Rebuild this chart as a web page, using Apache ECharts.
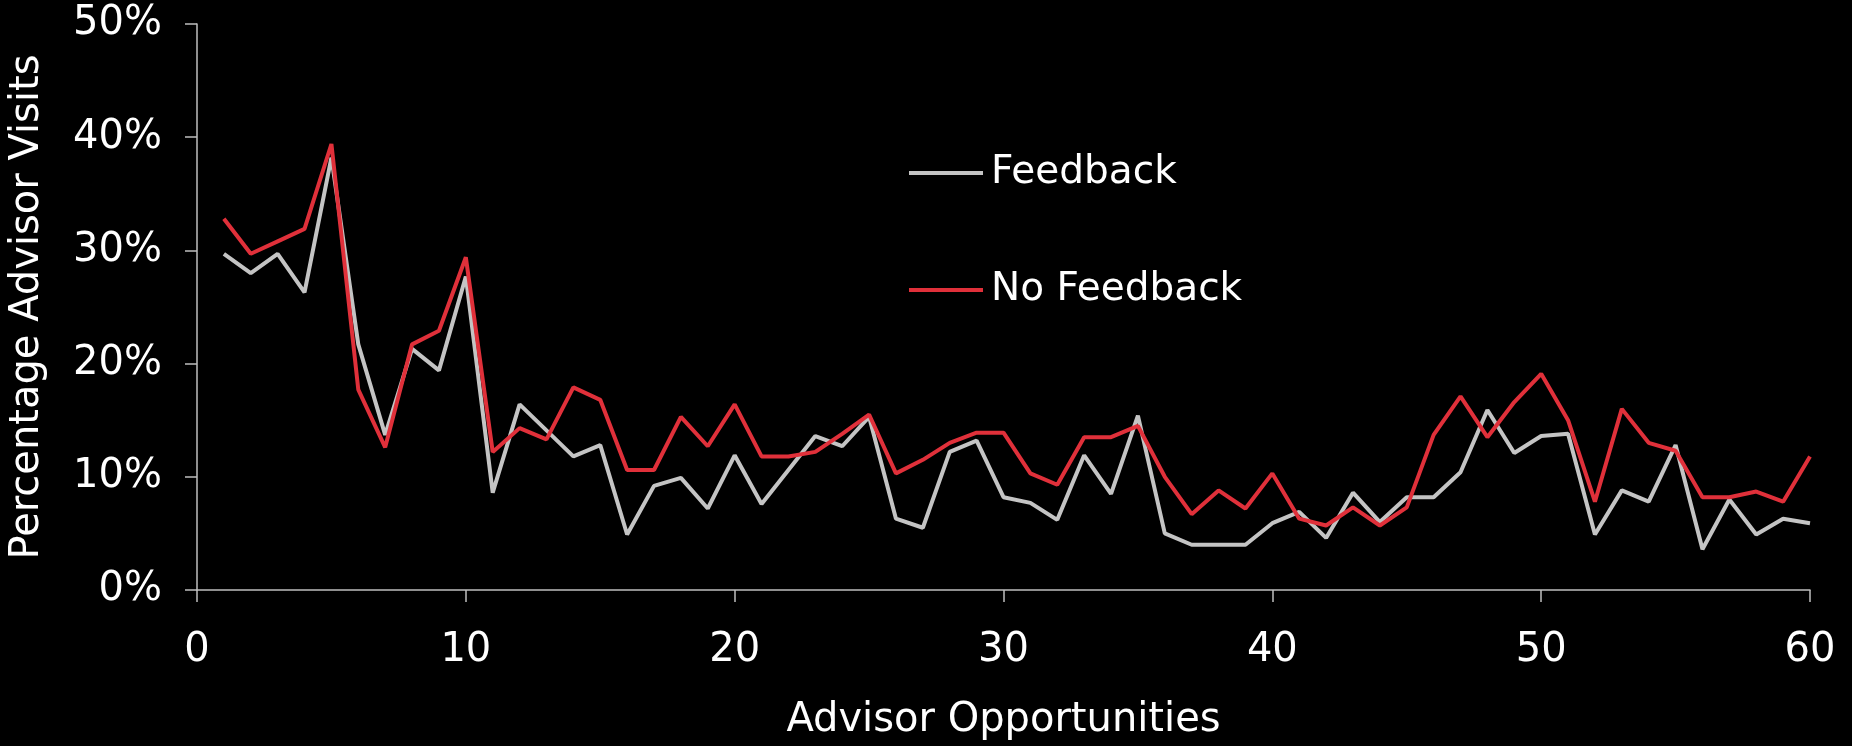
<!DOCTYPE html>
<html>
<head>
<meta charset="utf-8">
<title>Advisor Visits</title>
<script src="https://cdn.jsdelivr.net/npm/echarts@6/dist/echarts.min.js"></script>
<style>
  html, body { margin: 0; padding: 0; background: #000; }
  #chart { width: 1852px; height: 746px; }
</style>
</head>
<body>
<div id="chart"></div>
<script>
// x轴: advisor opportunities 1..60
var opportunities = [
  1, 2, 3, 4, 5, 6, 7, 8, 9, 10,
  11, 12, 13, 14, 15, 16, 17, 18, 19, 20,
  21, 22, 23, 24, 25, 26, 27, 28, 29, 30,
  31, 32, 33, 34, 35, 36, 37, 38, 39, 40,
  41, 42, 43, 44, 45, 46, 47, 48, 49, 50,
  51, 52, 53, 54, 55, 56, 57, 58, 59, 60
];
// percentage advisor visits, feedback group (grey line)
var feedback = [
  29.7, 28.0, 29.7, 26.3, 38.2, 21.7, 13.7, 21.3, 19.4, 27.7,
  8.6, 16.4, 14.1, 11.8, 12.8, 4.9, 9.2, 9.9, 7.2, 11.9,
  7.6, 10.6, 13.6, 12.7, 15.3, 6.3, 5.5, 12.2, 13.2, 8.2,
  7.7, 6.2, 11.9, 8.5, 15.4, 5.0, 4.0, 4.0, 4.0, 5.9,
  6.9, 4.6, 8.6, 6.0, 8.2, 8.2, 10.4, 15.9, 12.1, 13.6,
  13.8, 4.9, 8.8, 7.8, 12.8, 3.6, 8.0, 4.9, 6.3, 5.9
];
// no feedback group (red line)
var noFeedback = [
  32.8, 29.7, 30.8, 31.9, 39.4, 17.7, 12.6, 21.7, 22.9, 29.4,
  12.2, 14.3, 13.3, 17.9, 16.8, 10.6, 10.6, 15.3, 12.7, 16.4,
  11.8, 11.8, 12.2, 13.8, 15.5, 10.3, 11.5, 13.0, 13.9, 13.9,
  10.3, 9.3, 13.5, 13.5, 14.5, 10.0, 6.7, 8.8, 7.2, 10.3,
  6.3, 5.7, 7.3, 5.7, 7.3, 13.7, 17.1, 13.5, 16.6, 19.1,
  15.0, 7.8, 16.0, 13.0, 12.3, 8.2, 8.2, 8.7, 7.8, 11.8
];
var seriesNames = ['Feedback', 'No Feedback'];

// 组合成 [x, y]
function toPairs(vals) {
  var out = [];
  for (var i = 0; i < vals.length; i++) {
    out.push([opportunities[i], vals[i]]);
  }
  return out;
}

var axisColor = '#bfbfbf';
var font = 'DejaVu Sans';

var myChart = echarts.init(document.getElementById('chart'));

myChart.setOption({
  backgroundColor: '#000',
  animation: false,
  grid: {
    left: 195,
    right: 42,
    top: 24,
    bottom: 156
  },
  legend: {
    data: seriesNames,
    orient: 'vertical',
    left: 904,
    top: 148,
    icon: 'rect',
    itemWidth: 74,
    itemHeight: 4,
    itemGap: 77,
    selectedMode: false,
    textStyle: {
      color: '#fff',
      fontFamily: font,
      fontSize: 39,
      lineHeight: 40,
      padding: [0, 0, 0, 3]
    }
  },
  xAxis: {
    type: 'value',
    min: 0,
    max: 60,
    interval: 10,
    name: 'Advisor Opportunities',
    nameLocation: 'middle',
    nameGap: 111,
    nameTextStyle: { color: '#fff', fontFamily: font, fontSize: 40 },
    axisLine: { show: true, lineStyle: { color: axisColor, width: 1.5 } },
    axisTick: { show: true, length: 12, lineStyle: { color: axisColor, width: 1.5 } },
    axisLabel: { color: '#fff', fontFamily: font, fontSize: 40, margin: 41 },
    splitLine: { show: false }
  },
  yAxis: {
    type: 'value',
    min: 0,
    max: 50,
    interval: 10,
    name: 'Percentage Advisor Visits',
    nameLocation: 'middle',
    nameGap: 149,
    nameTextStyle: { color: '#fff', fontFamily: font, fontSize: 40 },
    axisLine: { show: true, lineStyle: { color: axisColor, width: 1.5 } },
    axisTick: { show: true, length: 12, lineStyle: { color: axisColor, width: 1.5 } },
    axisLabel: { color: '#fff', fontFamily: font, fontSize: 40, margin: 35, formatter: '{value}%' },
    splitLine: { show: false }
  },
  series: [
    {
      name: seriesNames[0],
      type: 'line',
      data: toPairs(feedback),
      showSymbol: false,
      color: '#c4c4c4',
      lineStyle: { color: '#c4c4c4', width: 4 }
    },
    {
      name: seriesNames[1],
      type: 'line',
      data: toPairs(noFeedback),
      showSymbol: false,
      color: '#e0303a',
      lineStyle: { color: '#e0303a', width: 4 }
    }
  ]
});
</script>
</body>
</html>
